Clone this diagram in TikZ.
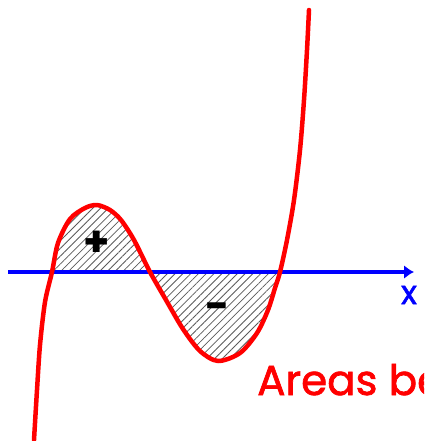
\documentclass[tikz,border=0pt]{standalone}
\usepackage{fontspec}
\setmainfont{Poppins}
\newfontfamily\capfont[FakeBold=1.6]{Poppins}
\usetikzlibrary{arrows.meta,patterns.meta}
\definecolor{arcurve}{RGB}{255,0,0}
\definecolor{araxis}{RGB}{0,0,255}
\definecolor{arhatch}{RGB}{90,90,90}
\definecolor{arsign}{RGB}{0,0,0}
\tikzset{
  redcurve/.style={draw=arcurve, line width=4.5pt, line cap=round, line join=round},
  xaxisline/.style={-{Latex[length=10pt,width=14pt]}, draw=araxis, line width=4pt},
  hatcharea/.style={
    pattern={Lines[angle=45,distance=5.5pt,line width=0.8pt]}, pattern color=arhatch
  },
  sign/.style={font=\bfseries\fontsize{42}{42}\selectfont, text=arsign, inner sep=0pt},
  axislabel/.style={font=\capfont\fontsize{33}{33}\selectfont, text=araxis, inner sep=0pt},
  titletext/.style={font=\capfont\fontsize{42}{42}\selectfont, text=arcurve, inner sep=0pt},
}

\begin{document}
\begin{tikzpicture}[x=1pt,y=-1pt]
  \useasboundingbox (0,0) rectangle (424,441);
  \clip (0,0) rectangle (424,441);

  % ===== shaded areas between curve and axis =====
  \fill[hatcharea] plot[smooth] coordinates {
    (52,272) (58,243) (70,219) (85,208) (97,205) (110,210) (121,220)
    (134,240) (150,272) (166,300) (183,329) (200,351) (218,361)
    (240,353) (257,333) (268,310) (275,288) (280,272)} -- cycle;

  % ===== x axis =====
  \coordinate (axl) at (8,272);
  \coordinate (axr) at (414,272);
  \draw[xaxisline] (axl) -- (axr);
  \node[axislabel] (xname) at (409,295) {x};

  % ===== the curve =====
  \draw[redcurve] plot[smooth] coordinates {
    (34,440) (37,390) (40,345) (45,302) (52,272) (58,243) (70,219)
    (85,208) (97,205) (110,210) (121,220) (134,240) (150,272)
    (166,300) (183,329) (200,351) (218,361) (240,353) (257,333)
    (268,310) (275,288) (280,272) (287,240) (294,200) (300,150)
    (304,100) (307,50) (309,10)};

  % ===== signs and caption =====
  \node[sign] (plus) at (97,244) {+};
  \node[sign] (minus) at (217,312) {−};
  \node[titletext, anchor=base west] (title) at (257,395) {Areas be};
\end{tikzpicture}
\end{document}
